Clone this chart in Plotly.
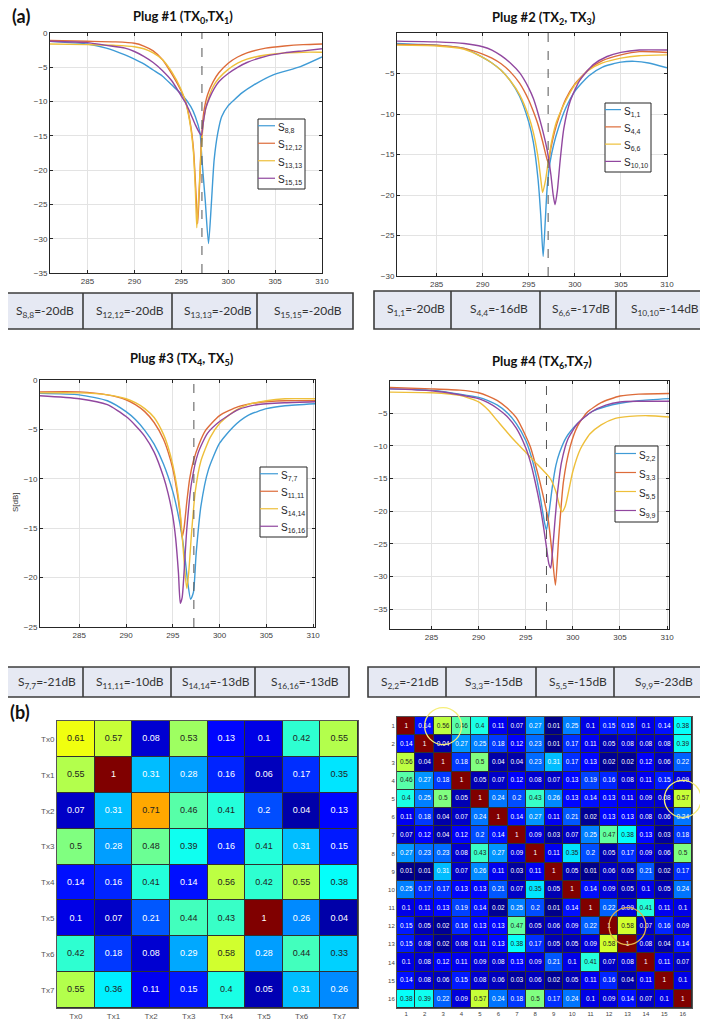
import plotly.graph_objects as go

# ---------------- data ----------------
freq_ticks = [285, 290, 295, 300, 305, 310]

# Plug #1 (TX0,TX1)
p1_names = ['S<sub>8,8</sub>', 'S<sub>12,12</sub>', 'S<sub>13,13</sub>', 'S<sub>15,15</sub>']
p1_s88_x = [281, 283, 285, 287, 289, 290, 291, 292, 293, 294, 295, 296, 296.5, 297, 297.2, 297.55, 297.9, 298.2, 298.5, 298.9, 299.3, 300, 300.6, 301.5, 302.7, 304.8, 307.7, 310]
p1_s88_y = [-1.2, -1.4, -1.6, -2.2, -3.2, -3.8, -4.5, -5.4, -6.3, -7.6, -8.9, -10.7, -12.2, -14.6, -18.5, -24.4, -30.7, -25.0, -18.5, -14.5, -12.2, -10.6, -9.8, -8.7, -7.6, -6.1, -4.9, -3.5]
p1_s1212_x = [281, 285, 288, 290, 291, 292, 293, 294, 295, 295.5, 296, 296.3, 296.55, 296.75, 296.95, 297.15, 297.4, 297.8, 298.4, 299, 300, 301, 302, 304, 306, 308, 310]
p1_s1212_y = [-1.1, -1.2, -1.3, -1.5, -1.9, -2.6, -3.9, -6.0, -8.5, -10.2, -13.5, -17.0, -23.0, -27.8, -22.0, -15.5, -11.5, -9.0, -7.1, -5.8, -4.4, -3.5, -2.9, -2.2, -1.9, -1.7, -1.6]
p1_s1313_x = [281, 285, 288, 290, 291, 292, 293, 294, 295, 295.5, 296, 296.3, 296.5, 296.65, 296.85, 297.1, 297.4, 297.8, 298.4, 299, 300, 301, 302, 304, 306, 308, 310]
p1_s1313_y = [-1.6, -1.7, -1.8, -2.0, -2.3, -2.9, -3.9, -5.7, -8.3, -10.3, -13.8, -17.5, -23.0, -28.4, -24.0, -17.5, -12.5, -10.0, -7.8, -6.6, -5.3, -4.4, -3.8, -3.2, -2.9, -2.8, -2.8]
p1_s1515_x = [281, 285, 287, 289, 290, 291, 292, 293, 294, 295, 295.5, 296, 296.5, 297, 297.15, 297.35, 297.6, 298, 298.5, 299, 300, 301, 302, 304, 306, 308, 310]
p1_s1515_y = [-1.2, -1.4, -1.8, -2.2, -2.7, -3.4, -4.3, -5.5, -7.0, -9.2, -10.3, -11.8, -13.4, -14.7, -14.9, -13.0, -11.0, -9.5, -8.1, -7.1, -5.9, -5.0, -4.3, -3.4, -2.9, -2.6, -2.3]
p1_marker = 297.2

# Plug #2 (TX2, TX3)
p2_names = ['S<sub>1,1</sub>', 'S<sub>4,4</sub>', 'S<sub>6,6</sub>', 'S<sub>10,10</sub>']
p2_s11_x = [280.7, 283, 285, 288, 290, 291, 292, 293, 294, 295, 295.5, 296, 296.3, 296.56, 296.8, 297.0, 297.3, 297.7, 298.2, 299, 300, 301.5, 303, 305, 306.5, 308, 310]
p2_s11_y = [-1.3, -1.4, -1.5, -1.9, -3.0, -3.7, -4.6, -5.9, -7.8, -11.0, -13.5, -18.0, -22.5, -27.6, -23.0, -19.0, -16.0, -13.8, -11.8, -9.3, -7.2, -5.3, -4.2, -3.6, -3.5, -3.7, -4.3]
p2_s44_x = [280.7, 285, 288, 290, 291, 292, 293, 294, 295, 295.5, 296, 296.5, 296.8, 297.1, 297.4, 297.8, 298.3, 299, 300, 301.5, 303, 305, 307, 310]
p2_s44_y = [-1.4, -1.5, -1.9, -2.6, -3.1, -3.8, -4.8, -6.2, -8.3, -9.7, -11.3, -13.4, -14.8, -16.0, -14.2, -12.2, -10.3, -8.2, -6.3, -4.5, -3.4, -2.7, -2.3, -2.4]
p2_s66_x = [280.7, 285, 288, 290, 291, 292, 293, 294, 295, 295.5, 296, 296.3, 296.5, 296.8, 297.1, 297.5, 298, 299, 300, 301.5, 303, 305, 307, 310]
p2_s66_y = [-1.5, -1.6, -2.0, -3.0, -3.7, -4.6, -5.9, -7.6, -10.3, -12.3, -15.3, -18.0, -19.7, -18.3, -16.0, -13.3, -11.0, -8.4, -6.4, -4.6, -3.7, -3.1, -2.8, -2.7]
p2_s1010_x = [280.7, 285, 288, 290, 291, 292, 293, 294, 295, 295.5, 296, 296.5, 297, 297.4, 297.65, 297.85, 298.1, 298.4, 298.8, 299.5, 300.5, 302, 303.5, 305, 307, 310]
p2_s1010_y = [-1.0, -1.1, -1.3, -1.7, -2.1, -2.8, -3.7, -4.9, -6.8, -8.1, -9.9, -12.0, -14.5, -17.5, -20.0, -21.2, -19.5, -15.8, -11.8, -8.4, -5.9, -3.9, -2.9, -2.4, -2.1, -2.1]
p2_marker = 297.1

# Plug #3 (TX4, TX5)
p3_names = ['S<sub>7,7</sub>', 'S<sub>11,11</sub>', 'S<sub>14,14</sub>', 'S<sub>16,16</sub>']
p3_s77_x = [280.8, 285, 288, 290, 291, 292, 293, 294, 295, 295.5, 296, 296.3, 296.6, 296.9, 297.2, 297.5, 298, 298.8, 300, 301.5, 303, 305, 307, 310.2]
p3_s77_y = [-1.35, -1.5, -2.1, -3.2, -4.0, -5.1, -6.5, -8.5, -11.3, -13.3, -15.9, -18.0, -20.5, -22.2, -21.5, -17.5, -12.8, -9.1, -6.4, -4.7, -3.6, -2.9, -2.6, -2.4]
p3_s1111_x = [280.8, 285, 288, 290, 291, 292, 293, 294, 294.5, 295, 295.5, 295.8, 296.0, 296.2, 296.5, 296.8, 297.2, 297.8, 298.5, 300, 302, 304, 307, 310.2]
p3_s1111_y = [-1.2, -1.2, -1.5, -2.0, -2.5, -3.2, -4.3, -6.0, -7.3, -9.0, -11.6, -13.8, -15.9, -15.0, -12.3, -10.0, -8.2, -6.5, -5.1, -3.6, -2.7, -2.3, -2.1, -2.1]
p3_s1414_x = [280.8, 285, 288, 290, 291, 292, 293, 294, 294.5, 295, 295.5, 295.8, 296.1, 296.35, 296.5, 296.7, 297, 297.4, 298, 299, 300, 301.5, 303, 305, 307, 310.2]
p3_s1414_y = [-1.3, -1.3, -1.5, -1.9, -2.3, -2.9, -3.8, -5.5, -6.8, -8.6, -11.2, -13.5, -17.0, -20.0, -21.1, -19.5, -15.5, -11.3, -8.2, -5.8, -4.4, -3.2, -2.5, -2.1, -1.9, -1.9]
p3_s1616_x = [280.8, 285, 288, 290, 291, 292, 293, 294, 294.5, 295, 295.3, 295.6, 295.8, 296.0, 296.2, 296.5, 297, 297.7, 298.7, 300, 302, 304, 307, 310.2]
p3_s1616_y = [-1.6, -1.9, -2.5, -3.7, -4.6, -5.7, -7.3, -9.8, -11.5, -13.8, -16.0, -19.5, -22.6, -22.0, -19.5, -15.0, -10.4, -7.4, -5.4, -4.2, -3.0, -2.5, -2.3, -2.2]
p3_marker = 297.25

# Plug #4 (TX6,TX7)
p4_names = ['S<sub>2,2</sub>', 'S<sub>3,3</sub>', 'S<sub>5,5</sub>', 'S<sub>9,9</sub>']
p4_s22_x = [280.6, 285, 288, 290, 291, 292, 293, 294, 295, 295.5, 296, 296.5, 297, 297.2, 297.45, 297.8, 298.2, 298.6, 299.3, 300.5, 302, 303.5, 305, 307, 310.2]
p4_s22_y = [-1.3, -1.5, -2.1, -2.6, -3.1, -3.8, -4.9, -6.6, -9.2, -11.2, -13.9, -17.5, -21.8, -22.9, -20.5, -16.5, -13.0, -11.0, -8.7, -6.6, -4.8, -4.0, -3.5, -3.1, -2.8]
p4_s33_x = [280.6, 285, 288, 290, 291, 292, 293, 294, 295, 295.5, 296, 296.5, 297, 297.4, 297.8, 298.15, 298.5, 299, 299.7, 300.5, 301.5, 303, 305, 307, 310.2]
p4_s33_y = [-1.1, -1.3, -1.5, -1.9, -2.4, -3.1, -4.2, -5.7, -8.5, -10.2, -12.7, -15.5, -18.6, -21.4, -26.5, -31.3, -24.0, -15.5, -10.2, -7.0, -4.9, -3.4, -2.4, -2.1, -2.0]
p4_s55_x = [280.6, 285, 288, 290, 291, 292, 293, 294, 295, 296, 297, 297.6, 298.2, 298.6, 298.85, 299.2, 299.6, 300, 300.8, 301.8, 303, 304.5, 306, 308, 310.2]
p4_s55_y = [-1.8, -1.9, -2.3, -3.3, -4.5, -6.2, -7.9, -9.5, -11.0, -12.5, -14.0, -15.0, -17.0, -19.2, -20.1, -19.2, -16.6, -13.9, -10.5, -8.2, -6.8, -5.8, -5.5, -5.4, -5.6]
p4_s99_x = [280.6, 285, 288, 290, 291, 292, 293, 294, 295, 295.5, 296, 296.5, 296.9, 297.2, 297.45, 297.65, 297.85, 298.1, 298.4, 298.8, 299.5, 300.5, 302, 303.5, 305, 307, 310.2]
p4_s99_y = [-1.3, -1.6, -2.2, -2.8, -3.4, -4.3, -5.5, -7.3, -10.3, -12.5, -15.5, -19.0, -22.5, -25.5, -28.0, -28.7, -26.0, -21.5, -16.8, -12.5, -8.9, -6.6, -4.8, -3.8, -3.3, -3.2, -3.2]
p4_marker = 297.2

# tables of matched levels
t1_text = ['S<sub>8,8</sub>=-20dB', 'S<sub>12,12</sub>=-20dB', 'S<sub>13,13</sub>=-20dB', 'S<sub>15,15</sub>=-20dB']
t2_text = ['S<sub>1,1</sub>=-20dB', 'S<sub>4,4</sub>=-16dB', 'S<sub>6,6</sub>=-17dB', 'S<sub>10,10</sub>=-14dB']
t3_text = ['S<sub>7,7</sub>=-21dB', 'S<sub>11,11</sub>=-10dB', 'S<sub>14,14</sub>=-13dB', 'S<sub>16,16</sub>=-13dB']
t4_text = ['S<sub>2,2</sub>=-21dB', 'S<sub>3,3</sub>=-15dB', 'S<sub>5,5</sub>=-15dB', 'S<sub>9,9</sub>=-23dB']

# (b) correlation matrices
tx_labels = ['Tx0', 'Tx1', 'Tx2', 'Tx3', 'Tx4', 'Tx5', 'Tx6', 'Tx7']
corr8 = [
    [0.61, 0.57, 0.08, 0.53, 0.13, 0.1, 0.42, 0.55],
    [0.55, 1, 0.31, 0.28, 0.16, 0.06, 0.17, 0.35],
    [0.07, 0.31, 0.71, 0.46, 0.41, 0.2, 0.04, 0.13],
    [0.5, 0.28, 0.48, 0.39, 0.16, 0.41, 0.31, 0.15],
    [0.14, 0.16, 0.41, 0.14, 0.56, 0.42, 0.55, 0.38],
    [0.1, 0.07, 0.21, 0.44, 0.43, 1, 0.26, 0.04],
    [0.42, 0.18, 0.08, 0.29, 0.58, 0.28, 0.44, 0.33],
    [0.55, 0.36, 0.11, 0.15, 0.4, 0.05, 0.31, 0.26],
]
port_labels = list(range(1, 17))
corr16 = [
    [1, 0.14, 0.56, 0.46, 0.4, 0.11, 0.07, 0.27, 0.01, 0.25, 0.1, 0.15, 0.15, 0.1, 0.14, 0.38],
    [0.14, 1, 0.04, 0.27, 0.25, 0.18, 0.12, 0.23, 0.01, 0.17, 0.11, 0.05, 0.08, 0.08, 0.08, 0.39],
    [0.56, 0.04, 1, 0.18, 0.5, 0.04, 0.04, 0.23, 0.31, 0.17, 0.13, 0.02, 0.02, 0.12, 0.06, 0.22],
    [0.46, 0.27, 0.18, 1, 0.05, 0.07, 0.12, 0.08, 0.07, 0.13, 0.19, 0.16, 0.08, 0.11, 0.15, 0.09],
    [0.4, 0.25, 0.5, 0.05, 1, 0.24, 0.2, 0.43, 0.26, 0.13, 0.14, 0.13, 0.11, 0.09, 0.08, 0.57],
    [0.11, 0.18, 0.04, 0.07, 0.24, 1, 0.14, 0.27, 0.11, 0.21, 0.02, 0.13, 0.13, 0.08, 0.06, 0.24],
    [0.07, 0.12, 0.04, 0.12, 0.2, 0.14, 1, 0.09, 0.03, 0.07, 0.25, 0.47, 0.38, 0.13, 0.03, 0.18],
    [0.27, 0.23, 0.23, 0.08, 0.43, 0.27, 0.09, 1, 0.11, 0.35, 0.2, 0.05, 0.17, 0.09, 0.06, 0.5],
    [0.01, 0.01, 0.31, 0.07, 0.26, 0.11, 0.03, 0.11, 1, 0.05, 0.01, 0.06, 0.05, 0.21, 0.02, 0.17],
    [0.25, 0.17, 0.17, 0.13, 0.13, 0.21, 0.07, 0.35, 0.05, 1, 0.14, 0.09, 0.05, 0.1, 0.05, 0.24],
    [0.1, 0.11, 0.13, 0.19, 0.14, 0.02, 0.25, 0.2, 0.01, 0.14, 1, 0.22, 0.09, 0.41, 0.11, 0.1],
    [0.15, 0.05, 0.02, 0.16, 0.13, 0.13, 0.47, 0.05, 0.06, 0.09, 0.22, 1, 0.58, 0.07, 0.16, 0.09],
    [0.15, 0.08, 0.02, 0.08, 0.11, 0.13, 0.38, 0.17, 0.05, 0.05, 0.09, 0.58, 1, 0.08, 0.04, 0.14],
    [0.1, 0.08, 0.12, 0.11, 0.09, 0.08, 0.13, 0.09, 0.21, 0.1, 0.41, 0.07, 0.08, 1, 0.11, 0.07],
    [0.14, 0.08, 0.06, 0.15, 0.08, 0.06, 0.03, 0.06, 0.02, 0.05, 0.11, 0.16, 0.04, 0.11, 1, 0.1],
    [0.38, 0.39, 0.22, 0.09, 0.57, 0.24, 0.18, 0.5, 0.17, 0.24, 0.1, 0.09, 0.14, 0.07, 0.1, 1],
]
# highlighted (column, row) pairs in the 16x16 matrix
highlight_cells = [(3, 1), (16, 5), (13, 12)]

# ---------------- style ----------------
# page pixel coordinates -> paper coords (the page body adds an 8px offset)
PAGE_W, PAGE_H, OFF = 708, 1022, 8
W, H = PAGE_W - OFF, PAGE_H - OFF
def fx(x):
    return (x - OFF) / W
def fy(y):
    return 1 - (y - OFF) / H

LINE_COLORS = ['#3f9bd6', '#dd6c3a', '#eebf3a', '#91479f']
F_TICK = 'Liberation Sans, Arial, sans-serif'
F_TXT = 'Lato, Open Sans, sans-serif'
AX_COL = '#262626'
JET = [[0.0, 'rgb(0,0,128)'], [0.125, 'rgb(0,0,255)'], [0.375, 'rgb(0,255,255)'],
       [0.625, 'rgb(255,255,0)'], [0.875, 'rgb(255,0,0)'], [1.0, 'rgb(128,0,0)']]

fig = go.Figure()


def note(x, y, text, size, color, family, xanchor='center', angle=0):
    fig.add_annotation(xref='paper', yref='paper', x=fx(x), y=fy(y), text=text, showarrow=False,
                       xanchor=xanchor, yanchor='middle', textangle=angle,
                       font=dict(size=size, color=color, family=family))


panels = [
    dict(ax='', xdom=(50, 322), ydom=(33, 273), xr=[281, 310], yr=[-35, 0], yt=[-35, -30, -25, -20, -15, -10, -5, 0],
         series=[(p1_s88_x, p1_s88_y), (p1_s1212_x, p1_s1212_y), (p1_s1313_x, p1_s1313_y), (p1_s1515_x, p1_s1515_y)],
         names=p1_names, marker=p1_marker, title='Plug #1 (TX<sub>0</sub>,TX<sub>1</sub>)', tpos=(183, 17),
         leg=(258, 119, 305, 189), legline=(258, 275)),
    dict(ax='2', xdom=(397, 667), ydom=(33, 276), xr=[280.7, 310], yr=[-30, 0], yt=[-30, -25, -20, -15, -10, -5],
         series=[(p2_s11_x, p2_s11_y), (p2_s44_x, p2_s44_y), (p2_s66_x, p2_s66_y), (p2_s1010_x, p2_s1010_y)],
         names=p2_names, marker=p2_marker, title='Plug #2 (TX<sub>2</sub>, TX<sub>3</sub>)', tpos=(544, 18),
         leg=(605, 103, 651, 172), legline=(605, 621)),
    dict(ax='3', xdom=(40, 315), ydom=(380, 627), xr=[280.8, 310.2], yr=[-25, 0], yt=[-25, -20, -15, -10, -5, 0],
         series=[(p3_s77_x, p3_s77_y), (p3_s1111_x, p3_s1111_y), (p3_s1414_x, p3_s1414_y), (p3_s1616_x, p3_s1616_y)],
         names=p3_names, marker=p3_marker, title='Plug #3 (TX<sub>4</sub>, TX<sub>5</sub>)', tpos=(182, 359),
         leg=(260, 467, 307, 537), legline=(260, 278)),
    dict(ax='4', xdom=(390, 669), ydom=(381, 629), xr=[280.6, 310.2], yr=[-38, -0.1], yt=[-35, -30, -25, -20, -15, -10, -5],
         series=[(p4_s22_x, p4_s22_y), (p4_s33_x, p4_s33_y), (p4_s55_x, p4_s55_y), (p4_s99_x, p4_s99_y)],
         names=p4_names, marker=p4_marker, title='Plug #4 (TX<sub>6</sub>,TX<sub>7</sub>)', tpos=(542, 362),
         leg=(615, 446, 658, 522), legline=(615, 636)),
]

layout_axes = {}
for p in panels:
    a = p['ax']
    xname, yname = 'x' + a, 'y' + a
    for (xs, ys), c in zip(p['series'], LINE_COLORS):
        fig.add_trace(go.Scatter(x=xs, y=ys, mode='lines', xaxis=xname, yaxis=yname,
                                 line=dict(color=c, width=1.4, shape='spline', smoothing=0.6),
                                 showlegend=False, hoverinfo='skip'))
    common = dict(showgrid=True, gridcolor='#e3e3e3', gridwidth=1, zeroline=False, automargin=False,
                  showline=True, linecolor=AX_COL, linewidth=1, mirror='ticks',
                  ticks='inside', ticklen=3, tickcolor=AX_COL,
                  tickfont=dict(size=8, color='#404040', family=F_TICK))
    layout_axes['xaxis' + a] = dict(domain=[fx(p['xdom'][0]), fx(p['xdom'][1])], range=p['xr'],
                                    tickvals=freq_ticks, anchor=yname, **common)
    layout_axes['yaxis' + a] = dict(domain=[fy(p['ydom'][1]), fy(p['ydom'][0])], range=p['yr'],
                                    tickvals=p['yt'], anchor=xname, **common)
    # resonance marker
    fig.add_shape(type='line', xref=xname, yref=yname + ' domain', x0=p['marker'], x1=p['marker'],
                  y0=0, y1=1, line=dict(color='#555555', width=1, dash='dash'))
    # title
    note(p['tpos'][0], p['tpos'][1], '<b>' + p['title'] + '</b>', 13, '#111111', F_TXT)
    # legend box
    lx0, ly0, lx1, ly1 = p['leg']
    fig.add_shape(type='rect', xref='paper', yref='paper', x0=fx(lx0), x1=fx(lx1), y0=fy(ly1), y1=fy(ly0),
                  fillcolor='white', line=dict(color=AX_COL, width=1))
    step = (ly1 - ly0) / len(p['names'])
    for i, (nm, c) in enumerate(zip(p['names'], LINE_COLORS)):
        yc = ly0 + step * (i + 0.5) - 2
        fig.add_shape(type='line', xref='paper', yref='paper', x0=fx(p['legline'][0]), x1=fx(p['legline'][1]),
                      y0=fy(yc), y1=fy(yc), line=dict(color=c, width=1.2))
        note(p['legline'][1] + 1, yc + 2, nm, 10, '#262626', F_TICK, xanchor='left')

# y label of Plug #3
note(15, 502, 'S[dB]', 8, '#333333', F_TICK, angle=-90)

# tables
tables = [
    (t1_text, [0, 83, 172, 257, 353], 293, 329),
    (t2_text, [374, 451, 540, 616, 707], 291, 329),
    (t3_text, [4, 83, 171, 255, 349], 667, 697),
    (t4_text, [368, 446, 536, 614, 707], 667, 697),
]
for texts, xs, y0, y1 in tables:
    fig.add_shape(type='rect', xref='paper', yref='paper', x0=fx(xs[0]), x1=fx(xs[-1]), y0=fy(y1), y1=fy(y0),
                  fillcolor='#e6e9f3', line=dict(color='#3c3c3c', width=1.6))
    for xb in xs[1:-1]:
        fig.add_shape(type='line', xref='paper', yref='paper', x0=fx(xb), x1=fx(xb), y0=fy(y1), y1=fy(y0),
                      line=dict(color='#3c3c3c', width=1.6))
    for i, t in enumerate(texts):
        note((xs[i] + xs[i + 1]) / 2 + 3, (y0 + y1) / 2, t, 12, '#333333', F_TXT)

# panel letters
note(10, 16, '<b>(a)</b>', 18, '#111111', F_TXT, xanchor='left')
note(8, 712, '<b>(b)</b>', 18, '#111111', F_TXT, xanchor='left')


def txt_color(v):
    return '#222222' if 0.32 <= v < 0.9 else '#ffffff'


# 8x8 matrix
fig.add_shape(type='rect', xref='x5 domain', yref='y5 domain', x0=0, x1=1, y0=0, y1=1,
              fillcolor='#303030', line=dict(width=0), layer='below')
fig.add_trace(go.Heatmap(z=corr8, x=tx_labels, y=tx_labels, xaxis='x5', yaxis='y5', colorscale=JET,
                         zmin=0, zmax=1, showscale=False, xgap=1, ygap=1, hoverinfo='skip'))
hx, hy, ht, hc = [], [], [], []
for r, row in enumerate(corr8):
    for c, v in enumerate(row):
        hx.append(tx_labels[c]); hy.append(tx_labels[r]); ht.append(f'{v:g}'); hc.append(txt_color(v))
fig.add_trace(go.Scatter(x=hx, y=hy, text=ht, mode='text', xaxis='x5', yaxis='y5', showlegend=False,
                         textfont=dict(size=9, color=hc, family=F_TICK), hoverinfo='skip'))
hm_common = dict(showgrid=False, zeroline=False, showline=True, linecolor='#555555', linewidth=1, mirror=True,
                 ticks='', automargin=False, tickfont=dict(size=8, color='#555555', family=F_TICK))
layout_axes['xaxis5'] = dict(domain=[fx(57), fx(358)], anchor='y5', type='category',
                             categoryorder='array', categoryarray=tx_labels, **hm_common)
layout_axes['yaxis5'] = dict(domain=[fy(1008), fy(721)], anchor='x5', type='category',
                             categoryorder='array', categoryarray=tx_labels, autorange='reversed', **hm_common)

# 16x16 matrix
fig.add_shape(type='rect', xref='x6 domain', yref='y6 domain', x0=0, x1=1, y0=0, y1=1,
              fillcolor='#303030', line=dict(width=0), layer='below')
fig.add_trace(go.Heatmap(z=corr16, x=port_labels, y=port_labels, xaxis='x6', yaxis='y6', colorscale=JET,
                         zmin=0, zmax=1, showscale=False, xgap=1, ygap=1, hoverinfo='skip'))
gx, gy, gt, gc = [], [], [], []
for r, row in enumerate(corr16):
    for c, v in enumerate(row):
        gx.append(port_labels[c]); gy.append(port_labels[r]); gt.append(f'{v:g}'); gc.append(txt_color(v))
fig.add_trace(go.Scatter(x=gx, y=gy, text=gt, mode='text', xaxis='x6', yaxis='y6', showlegend=False,
                         textfont=dict(size=6.5, color=gc, family=F_TICK), hoverinfo='skip'))
hm16 = dict(hm_common)
hm16['tickfont'] = dict(size=6, color='#444444', family=F_TICK)
layout_axes['xaxis6'] = dict(domain=[fx(397), fx(692)], anchor='y6', range=[0.5, 16.5],
                             tickvals=port_labels, **hm16)
layout_axes['yaxis6'] = dict(domain=[fy(1008), fy(717)], anchor='x6', range=[16.5, 0.5],
                             tickvals=port_labels, **hm16)

# highlight circles (paper coords computed from the 16x16 grid)
gx0, gx1, gy0, gy1 = 397, 692, 717, 1008
cw, ch = (gx1 - gx0) / 16, (gy1 - gy0) / 16
circle_cols = ['#f6ee78', '#f6ee78', '#e2b04a']
for (col, row), cc in zip(highlight_cells, circle_cols):
    cx = gx0 + (col - 0.5) * cw
    cy = gy0 + (row - 0.5) * ch
    rad = 1.0 * cw
    fig.add_shape(type='circle', xref='paper', yref='paper', x0=fx(cx - rad), x1=fx(cx + rad),
                  y0=fy(cy + rad), y1=fy(cy - rad), line=dict(color=cc, width=1.3))

fig.update_layout(template='none', width=W, height=H, margin=dict(l=0, r=0, t=0, b=0, autoexpand=False),
                  paper_bgcolor='white', plot_bgcolor='white', showlegend=False, **layout_axes)

fig.write_html('out.html')
